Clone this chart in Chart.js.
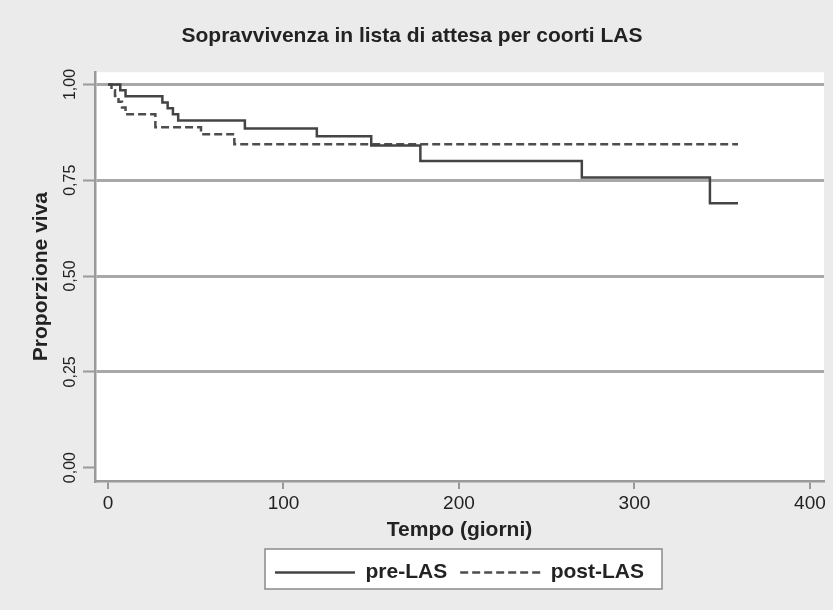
<!DOCTYPE html>
<html>
<head>
<meta charset="utf-8">
<script src="https://cdn.jsdelivr.net/npm/chart.js@4/dist/chart.umd.min.js"></script>
<style>
  html, body { margin: 0; padding: 0; background: #ebebeb; }
  #wrap { width: 833px; height: 610px; }
</style>
</head>
<body>
<div id="wrap"><canvas id="mycanvas" width="833" height="610"></canvas></div>
<script>
// Kaplan-Meier steps (giorni, proporzione viva)
var preTempo = [0, 7, 10, 31, 34, 37, 40, 78, 119, 150, 178, 270, 343, 359];
var preViva = [1.0, 0.985, 0.969, 0.953, 0.938, 0.922, 0.906, 0.885, 0.865, 0.841, 0.80, 0.757, 0.69, 0.69];

var postTempo = [0, 2, 4, 6, 8, 10, 27, 53, 72, 359];
var postViva = [1.0, 0.985, 0.97, 0.955, 0.94, 0.922, 0.888, 0.870, 0.844, 0.844];

var xTicks = [0, 100, 200, 300, 400];
var yTicks = [0, 0.25, 0.5, 0.75, 1];
var yTickLabels = ['0,00', '0,25', '0,50', '0,75', '1,00'];

var fontFam = '"Liberation Sans", Arial, Helvetica, sans-serif';

function punti(t, v) {
  var out = [];
  for (var i in t) {
    out.push({x: t[i], y: v[i]});
  }
  return out;
}

// white plot area on gray background
var plotBg = {
  id: 'plotBg',
  beforeDraw: function(chart) {
    var c = chart.ctx, a = chart.chartArea;
    c.save();
    c.fillStyle = '#ebebeb';
    c.fillRect(0, 0, chart.width, chart.height);
    c.fillStyle = '#ffffff';
    c.fillRect(a.left, a.top, a.right - a.left, a.bottom - a.top);
    c.restore();
  }
};

// framed legend box
var legendBox = {
  id: 'legendBox',
  beforeDraw: function(chart) {
    var lg = chart.legend;
    if (!lg || !lg.legendHitBoxes.length) return;
    var hb = lg.legendHitBoxes;
    var x0 = hb[0].left - 10;
    var x1 = hb[hb.length - 1].left + hb[hb.length - 1].width + 18;
    var c = chart.ctx;
    c.save();
    c.fillStyle = '#ffffff';
    c.fillRect(x0, lg.top, x1 - x0, 40);
    c.strokeStyle = '#8a8a8a';
    c.lineWidth = 1.5;
    c.strokeRect(x0, lg.top, x1 - x0, 40);
    c.restore();
  }
};

var chartdata = {
  datasets: [
    {
      label: 'pre-LAS',
      data: punti(preTempo, preViva),
      borderColor: '#444444',
      borderWidth: 2.5,
      stepped: true,
      pointRadius: 0,
      fill: false
    },
    {
      label: 'post-LAS',
      data: punti(postTempo, postViva),
      borderColor: '#4d4d4d',
      borderWidth: 2.5,
      borderDash: [8, 4],
      stepped: true,
      pointRadius: 0,
      fill: false
    }
  ]
};

var ctx = document.getElementById('mycanvas');

var myChart = new Chart(ctx, {
  type: 'line',
  data: chartdata,
  plugins: [plotBg, legendBox],
  options: {
    responsive: false,
    animation: false,
    layout: { padding: { left: 0, right: 9, top: 0, bottom: 17 } },
    plugins: {
      title: {
        display: true,
        text: 'Sopravvivenza in lista di attesa per coorti LAS',
        color: '#222',
        font: { family: fontFam, size: 21, weight: 'bold' },
        padding: { top: 24, bottom: 23 }
      },
      legend: {
        position: 'bottom',
        fullSize: false,
        labels: {
          usePointStyle: true,
          pointStyle: 'line',
          pointStyleWidth: 80,
          padding: 13,
          color: '#222',
          font: { family: fontFam, size: 21, weight: 'bold' },
          generateLabels: function(chart) {
            var items = Chart.defaults.plugins.legend.labels.generateLabels(chart);
            items.forEach(function(it) {
              var ds = chart.data.datasets[it.datasetIndex];
              it.lineDash = ds.borderDash || [];
              it.strokeStyle = ds.borderColor;
              it.lineWidth = ds.borderWidth;
            });
            return items;
          }
        }
      },
      tooltip: { enabled: false }
    },
    scales: {
      x: {
        type: 'linear',
        min: -7.4,
        max: 408,
        afterBuildTicks: function(scale) {
          scale.ticks = xTicks.map(function(v) { return {value: v}; });
        },
        afterFit: function(scale) { scale.height = 68; },
        grid: { drawOnChartArea: false, tickLength: 8, tickColor: '#999', lineWidth: 2 },
        border: { display: true, color: '#9a9a9a', width: 2.5 },
        ticks: {
          color: '#222',
          padding: 3,
          maxRotation: 0,
          font: { family: fontFam, size: 19 }
        },
        title: {
          display: true,
          text: 'Tempo (giorni)',
          color: '#222',
          font: { family: fontFam, size: 21, weight: 'bold' },
          padding: { top: 0, bottom: 6 }
        }
      },
      y: {
        type: 'linear',
        min: -0.035,
        max: 1.032,
        afterBuildTicks: function(scale) {
          scale.ticks = yTicks.map(function(v) { return {value: v}; });
        },
        afterFit: function(scale) { scale.width = 95; },
        grid: {
          color: function(c) { return c.tick && c.tick.value === 0 ? 'rgba(0,0,0,0)' : '#a8a8a8'; },
          lineWidth: 3,
          tickLength: 12,
          tickColor: '#999',
          tickWidth: 2
        },
        border: { display: true, color: '#9a9a9a', width: 2.5 },
        ticks: {
          color: '#222',
          padding: -3,
          minRotation: 90,
          maxRotation: 90,
          crossAlign: 'center',
          font: { family: fontFam, size: 16 },
          callback: function(value) {
            var i = yTicks.indexOf(value);
            return i >= 0 ? yTickLabels[i] : '';
          }
        },
        title: {
          display: true,
          text: 'Proporzione viva',
          color: '#222',
          font: { family: fontFam, size: 21, weight: 'bold' },
          padding: { top: 29, bottom: 0 }
        }
      }
    }
  }
});
</script>
</body>
</html>
